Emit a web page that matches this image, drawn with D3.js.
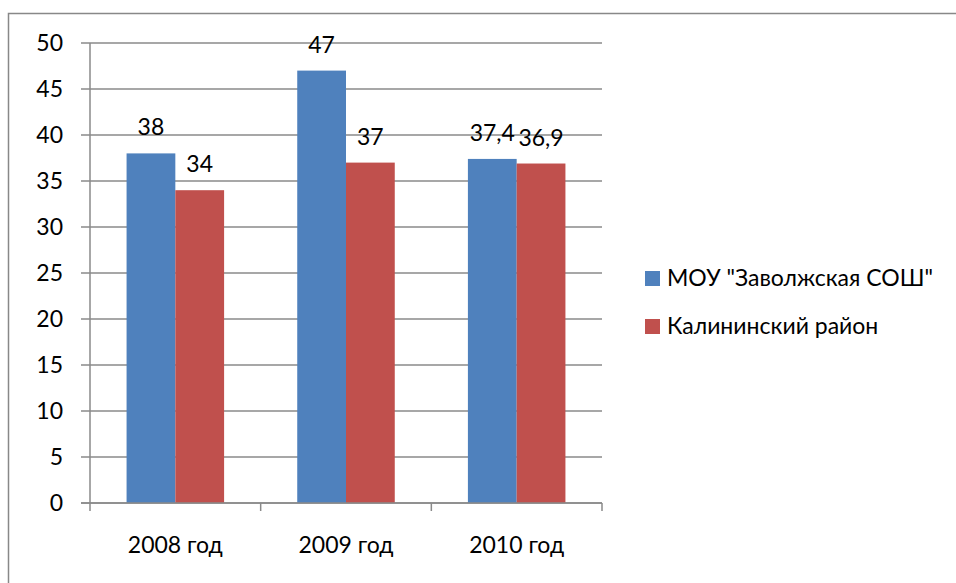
<!DOCTYPE html>
<html><head><meta charset="utf-8">
<script src="https://cdn.jsdelivr.net/npm/d3@7/dist/d3.min.js"></script>
<style>body{margin:0;background:#fff}svg{display:block}</style>
</head><body>
<script>
const categories = ["2008 год", "2009 год", "2010 год"];
const seriesNames = ["МОУ \"Заволжская СОШ\"", "Калининский район"];
const seriesA = [38, 47, 37.4];
const seriesB = [34, 37, 36.9];
const yTicks = [0, 5, 10, 15, 20, 25, 30, 35, 40, 45, 50];
const colors = ["#4F81BD", "#C0504D"];

const W = 956, H = 583;
const font = "Lato, 'Open Sans', sans-serif";
const fs = 23;
const svg = d3.select("body").append("svg").attr("width", W).attr("height", H);

// outer border
svg.append("rect").attr("x", 8.5).attr("y", 13.5).attr("width", W + 10).attr("height", H + 10)
  .attr("fill", "#fff").attr("stroke", "#888").attr("stroke-width", 1.5);

const x0 = d3.scaleBand().domain(categories).range([90, 602]);
const y = d3.scaleLinear().domain([0, 50]).range([503, 43]);
const bw = x0.bandwidth() / 3.5;
const x1 = d3.scaleBand().domain([0, 1]).range([bw * 0.75, bw * 2.75]);

// gridlines
svg.append("g").selectAll("line").data(yTicks).join("line")
  .attr("x1", 81).attr("x2", 602).attr("y1", d => y(d)).attr("y2", d => y(d))
  .attr("stroke", "#8a8a8a").attr("stroke-width", 1.5);

// y labels
svg.append("g").selectAll("text").data(yTicks).join("text")
  .attr("x", 63).attr("y", d => y(d)).attr("dy", "0.35em").attr("text-anchor", "end")
  .attr("font-family", font).attr("font-size", fs).attr("fill", "#000").text(d => d);

// axes
svg.append("line").attr("x1", 90).attr("x2", 90).attr("y1", 43).attr("y2", 503)
  .attr("stroke", "#8a8a8a").attr("stroke-width", 1.5);
const bounds = [0, 1, 2, 3].map(i => 90 + i * x0.step());
svg.append("g").selectAll("line").data(bounds).join("line")
  .attr("x1", d => d).attr("x2", d => d).attr("y1", 503).attr("y2", 511)
  .attr("stroke", "#8a8a8a").attr("stroke-width", 1.5);

const data = [seriesA, seriesB];
data.forEach((s, si) => {
  const g = svg.append("g");
  g.selectAll("rect").data(s).join("rect")
    .attr("x", (d, i) => x0(categories[i]) + x1(si))
    .attr("y", d => y(d)).attr("width", x1.bandwidth()).attr("height", d => y(0) - y(d))
    .attr("fill", colors[si]);
  g.selectAll("text").data(s).join("text")
    .attr("x", (d, i) => x0(categories[i]) + x1(si) + x1.bandwidth() / 2)
    .attr("y", d => y(d) - 18).attr("text-anchor", "middle")
    .attr("font-family", font).attr("font-size", fs).attr("fill", "#000")
    .text(d => String(d).replace(".", ","));
});

svg.append("line").attr("x1", 81).attr("x2", 602).attr("y1", 503).attr("y2", 503)
  .attr("stroke", "#8a8a8a").attr("stroke-width", 1.5);

// x labels
svg.append("g").selectAll("text").data(categories).join("text")
  .attr("x", d => x0(d) + x0.bandwidth() / 2).attr("y", 553).attr("text-anchor", "middle")
  .attr("font-family", font).attr("font-size", fs).attr("fill", "#000").text(d => d);

// legend
const lg = svg.append("g");
seriesNames.forEach((n, i) => {
  const cy = 278 + i * 48;
  lg.append("rect").attr("x", 645).attr("y", cy - 7).attr("width", 15).attr("height", 15).attr("fill", colors[i]);
  lg.append("text").attr("x", 667).attr("y", cy).attr("dy", "0.35em")
    .attr("font-family", font).attr("font-size", fs).attr("fill", "#000").text(n);
});
</script>
</body></html>
